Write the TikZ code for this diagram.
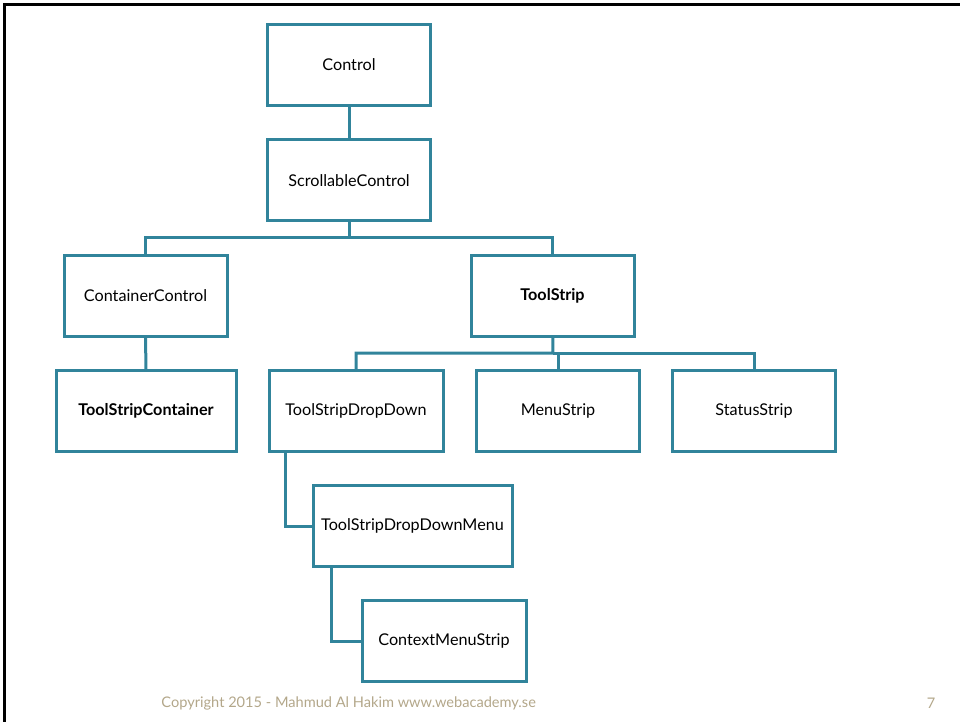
\documentclass[tikz,border=0pt]{standalone}
\usepackage{fontspec}
\setmainfont{Lato}
\usepackage{tikz}
\usetikzlibrary{positioning}
\definecolor{frame}{HTML}{31849B}
\definecolor{note}{HTML}{B3A78A}

\begin{document}
\begin{tikzpicture}[x=0.5pt,y=-0.5pt,
    cls/.style={draw=frame,line width=1.5pt,fill=white,inner sep=0pt,
      minimum width=81.5pt,minimum height=40.5pt,font=\fontsize{8.1}{9.5}\selectfont},
    link/.style={draw=frame,line width=1.5pt}]
      \useasboundingbox (0,0) rectangle (960,722);
      \draw[line width=1.5pt] (4.5,722) -- (4.5,5) -- (960,5);

      \path
      (349,65) node[cls](control) {Control}
      (349,180.5) node[cls](scroll) {ScrollableControl}
      (145.5,296) node[cls](container) {ContainerControl}
      (552.5,296) node[cls](strip) {\bfseries ToolStrip}
      (146,411) node[cls,minimum width=90pt](stripcont) {\bfseries ToolStripContainer}
      (356,411) node[cls,minimum width=87pt](dropdown) {ToolStripDropDown}
      (558,411) node[cls](menu) {MenuStrip}
      (754,411) node[cls](status) {StatusStrip}
      (412.5,526) node[cls,minimum width=99.5pt](ddmenu) {ToolStripDropDownMenu}
      (444,641) node[cls,minimum width=82pt](context) {ContextMenuStrip}
      (349,238) coordinate(bus1)
      (553,353) coordinate(bus2)
      ;

      \draw[link] (control) -- (scroll);
      \draw[link] (scroll) -- (bus1) -| (container);
      \draw[link] (bus1) -| (strip);
      \draw[link] (container) -- (stripcont);
      \draw[link] (strip) -- (bus2) -| (dropdown);
      \draw[link] (bus2) -| (menu);
      \draw[link] (bus2) -| (status);
      \draw[link] ([xshift=9pt]dropdown.south west) |- (ddmenu);
      \draw[link] ([xshift=10pt]ddmenu.south west) |- (context);

      \path
      (161,703) node[anchor=west,inner sep=0pt,text=note,font=\fontsize{7.3}{8.5}\selectfont](copy) {Copyright 2015 - Mahmud Al Hakim www.webacademy.se}
      (931,703) node[text=note,font=\fontsize{7.3}{8.5}\selectfont](page) {7};
    \end{tikzpicture}
\end{document}
